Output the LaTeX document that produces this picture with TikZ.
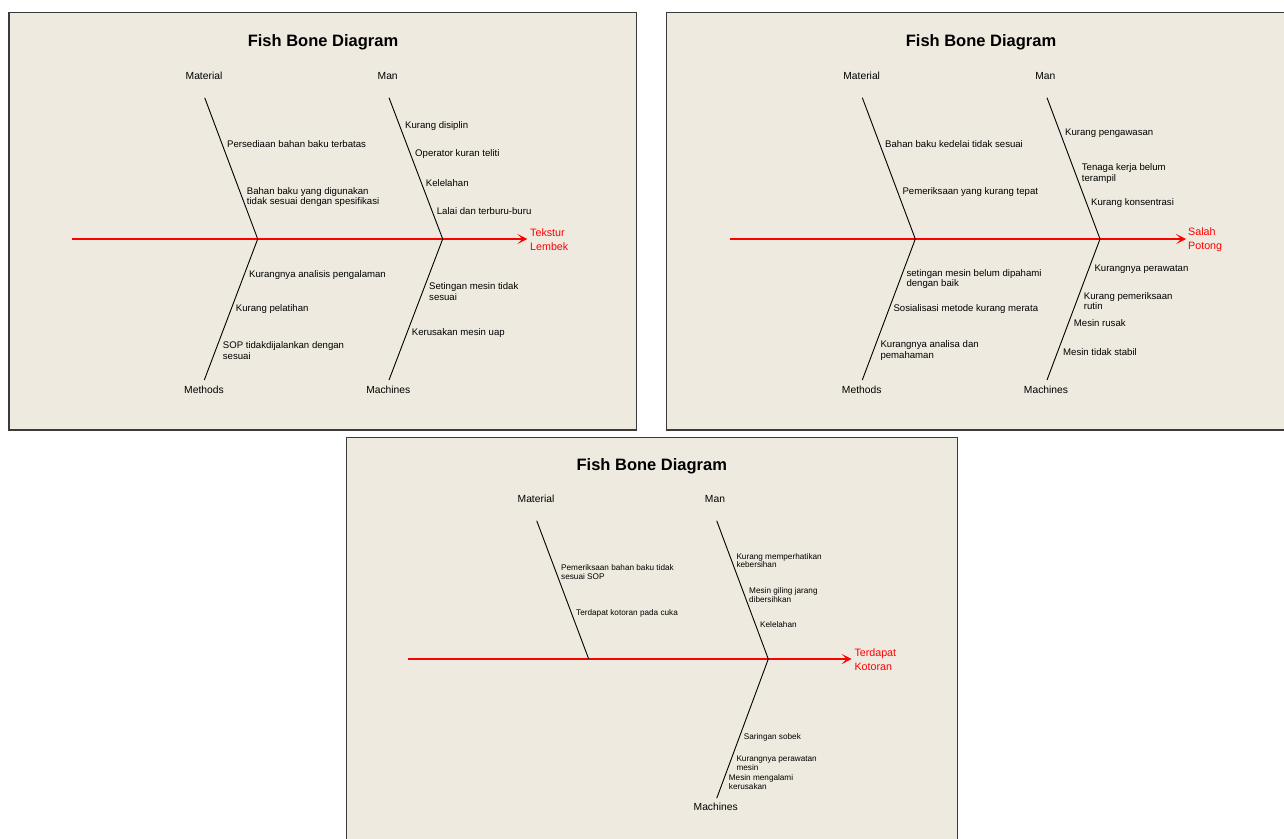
\documentclass[tikz,border=0pt]{standalone}
\usepackage{fontspec}
\setmainfont{Liberation Sans}
\usetikzlibrary{arrows.meta}
\definecolor{panelbg}{HTML}{EEEAE0}
\definecolor{framecol}{HTML}{3A3A3A}
\definecolor{spinered}{HTML}{FF0000}
\tikzset{
  panel/.style={fill=panelbg, draw=framecol, line width=1.1pt},
  titletext/.style={font=\bfseries\fontsize{16.5}{18}\selectfont, inner sep=0pt},
  cat/.style={font=\fontsize{10.3}{12}\selectfont, inner sep=0pt},
  cause/.style={font=\fontsize{9.6}{10.3}\selectfont, inner sep=0pt, anchor=west, align=left},
  smallcause/.style={font=\fontsize{8.2}{8.8}\selectfont, inner sep=0pt, anchor=west, align=left},
  effect/.style={font=\fontsize{10.7}{14.4}\selectfont, text=spinered, inner sep=0pt, anchor=west, align=left},
  bone/.style={draw=black, line width=0.9pt},
  spine/.style={draw=spinered, line width=1.4pt, -{Stealth[length=10pt,width=10pt,inset=5pt]}}
}
\begin{document}
\begin{tikzpicture}[x=1pt,y=-1pt]
\useasboundingbox (0,0) rectangle (1284,838);
\clip (0,0) rectangle (1284,838);
\fill[white] (0,0) rectangle (1284,838);

% ---------------- Panel 1 ----------------
\draw[panel] (9,12.3) rectangle (636.7,430);
\node[titletext] (t1) at (323,42) {Fish Bone Diagram};
\node[cat] (mat1) at (204,76) {Material};
\node[cat] (man1) at (387.7,76) {Man};
\node[cat] (met1) at (204,390) {Methods};
\node[cat] (mac1) at (388.3,390) {Machines};
\coordinate (j1a) at (257.7,239);
\coordinate (j1b) at (442.7,239);
\coordinate (tail1) at (72.3,239);
\coordinate (mat1e) at (204.7,97.7);
\coordinate (man1e) at (389,97.7);
\coordinate (met1e) at (204.3,380);
\coordinate (mac1e) at (389,380);
\node[effect] (e1) at (530,239.5) {Tekstur\\Lembek};
\draw[spine, shorten >=2.7pt] (tail1) -- (tail1 -| e1.west);
\draw[bone] (mat1e) -- (j1a) -- (met1e);
\draw[bone] (man1e) -- (j1b) -- (mac1e);
\node[cause] (c1a) at (227,144.3) {Persediaan bahan baku terbatas};
\node[cause] (c1b) at (246.7,197) {Bahan baku yang digunakan\\tidak sesuai dengan spesifikasi};
\node[cause] (c1c) at (249,275) {Kurangnya analisis pengalaman};
\node[cause] (c1d) at (235.7,309.3) {Kurang pelatihan};
\node[cause] (c1e) at (222.7,350.5) {SOP tidakdijalankan dengan\\sesuai};
\node[cause] (c1f) at (405,126.3) {Kurang disiplin};
\node[cause] (c1g) at (415,154.3) {Operator kuran teliti};
\node[cause] (c1h) at (425.7,183) {Kelelahan};
\node[cause] (c1i) at (436.7,211.3) {Lalai dan terburu-buru};
\node[cause] (c1j) at (429,291.7) {Setingan mesin tidak\\sesuai};
\node[cause] (c1k) at (411.7,333.3) {Kerusakan mesin uap};

% ---------------- Panel 2 ----------------
\draw[panel] (666.7,12.3) rectangle (1300,430);
\node[titletext] (t2) at (981,42) {Fish Bone Diagram};
\node[cat] (mat2) at (861.7,76) {Material};
\node[cat] (man2) at (1045.3,76) {Man};
\node[cat] (met2) at (861.7,390) {Methods};
\node[cat] (mac2) at (1046,390) {Machines};
\coordinate (j2a) at (915.3,239);
\coordinate (j2b) at (1100,239);
\coordinate (tail2) at (730,239);
\coordinate (mat2e) at (862.3,97.7);
\coordinate (man2e) at (1047,97.7);
\coordinate (met2e) at (862.3,380);
\coordinate (mac2e) at (1047,380);
\node[effect] (e2) at (1188,239.5) {Salah\\Potong};
\draw[spine, shorten >=2pt] (tail2) -- (tail2 -| e2.west);
\draw[bone] (mat2e) -- (j2a) -- (met2e);
\draw[bone] (man2e) -- (j2b) -- (mac2e);
\node[cause] (c2a) at (885,144.3) {Bahan baku kedelai tidak sesuai};
\node[cause] (c2b) at (902.3,191.7) {Pemeriksaan yang kurang tepat};
\node[cause] (c2c) at (906.3,279.3) {setingan mesin belum dipahami\\dengan baik};
\node[cause] (c2d) at (893.3,309.3) {Sosialisasi metode kurang merata};
\node[cause] (c2e) at (880.3,350.5) {Kurangnya analisa dan\\pemahaman};
\node[cause] (c2f) at (1065,132.7) {Kurang pengawasan};
\node[cause] (c2g) at (1081.7,173.5) {Tenaga kerja belum\\terampil};
\node[cause] (c2h) at (1091,203.3) {Kurang konsentrasi};
\node[cause] (c2i) at (1094.3,268.7) {Kurangnya perawatan};
\node[cause] (c2j) at (1083.7,301.3) {Kurang pemeriksaan\\rutin};
\node[cause] (c2k) at (1073.7,323.3) {Mesin rusak};
\node[cause] (c2l) at (1063,352.3) {Mesin tidak stabil};

% ---------------- Panel 3 ----------------
\draw[panel] (346.7,437.3) rectangle (957.3,850);
\node[titletext] (t3) at (651.8,466.7) {Fish Bone Diagram};
\node[cat] (mat3) at (536,499.3) {Material};
\node[cat] (man3) at (715,499.3) {Man};
\node[cat] (mac3) at (715.7,807.3) {Machines};
\coordinate (j3a) at (588.7,659);
\coordinate (j3b) at (768.3,659);
\coordinate (tail3) at (408.3,659);
\coordinate (mat3e) at (536.7,520.7);
\coordinate (man3e) at (716.7,520.7);
\coordinate (mac3e) at (716.7,798.3);
\node[effect] (e3) at (854.3,659.5) {Terdapat\\Kotoran};
\draw[spine, shorten >=2.6pt] (tail3) -- (tail3 -| e3.west);
\draw[bone] (mat3e) -- (j3a);
\draw[bone] (man3e) -- (j3b) -- (mac3e);
\node[smallcause] (c3a) at (561,571.8) {Pemeriksaan bahan baku tidak\\sesuai SOP};
\node[smallcause] (c3b) at (576,613) {Terdapat kotoran pada cuka};
\node[smallcause] (c3c) at (736.3,560.5) {Kurang memperhatikan\\kebersihan};
\node[smallcause] (c3d) at (749,594.8) {Mesin giling jarang\\dibersihkan};
\node[smallcause] (c3e) at (760,624.7) {Kelelahan};
\node[smallcause] (c3f) at (743.7,737.7) {Saringan sobek};
\node[smallcause] (c3g) at (736.3,763.2) {Kurangnya perawatan\\mesin};
\node[smallcause] (c3h) at (728.7,782.3) {Mesin mengalami\\kerusakan};
\end{tikzpicture}
\end{document}
